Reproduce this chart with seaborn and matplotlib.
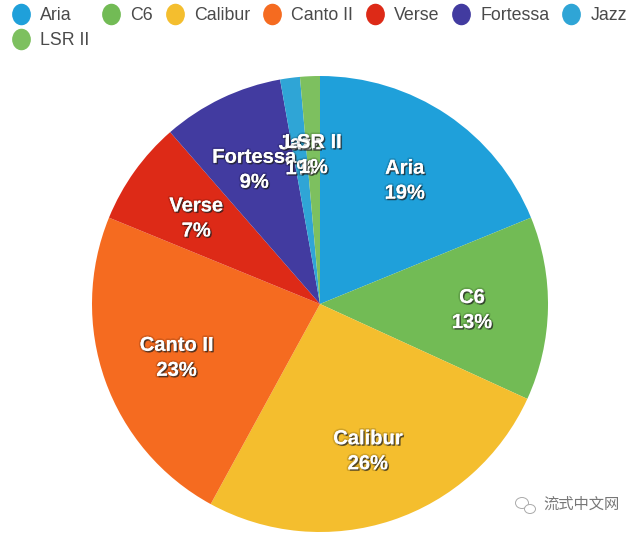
import matplotlib
matplotlib.use("Agg")
import matplotlib.pyplot as plt
import matplotlib.patheffects as pe
from matplotlib.lines import Line2D
from matplotlib.markers import MarkerStyle
from matplotlib.patches import Ellipse
from matplotlib.transforms import Affine2D
import seaborn as sns

names = ["Aria", "C6", "Calibur", "Canto II", "Verse", "Fortessa", "Jazz", "LSR II"]
shares = [18.8, 13.0, 26.1, 23.2, 7.4, 8.6, 1.4, 1.4]
colors = ["#1FA0DA", "#72BB55", "#F4BE2E", "#F56B20", "#DD2A17", "#423BA0", "#2FA5D6", "#7DC05F"]

sns.set_theme(style="white")
plt.rcParams["font.family"] = ["Liberation Sans", "Noto Sans CJK SC", "DejaVu Sans"]

fig, ax = plt.subplots(figsize=(6.4, 5.33), dpi=100)
fig.subplots_adjust(0, 0, 1, 1)

total = sum(shares)
labels = [f"{n}\n{v / total * 100:.0f}%" for n, v in zip(names, shares)]

wedges, texts = ax.pie(shares, labels=labels, colors=sns.color_palette(colors), startangle=90,
                       counterclock=False, center=(320, 229), radius=228, labeldistance=0.667,
                       wedgeprops={"linewidth": 0})
for t in texts:
    x, y = t.get_position()
    t.set_position((x, y - 3))
    t.set_ha("center")
    t.set_va("center")
    t.set_color("white")
    t.set_fontsize(14.5)
    t.set_fontweight("bold")
    t.set_linespacing(1.4)
    t.set_path_effects([pe.withStroke(linewidth=2.5, foreground=(0, 0, 0, 0.14)),
                        pe.withSimplePatchShadow(offset=(1, -1), shadow_rgbFace="#222222", alpha=0.7)])

ax.set_xlim(0, 640)
ax.set_ylim(0, 533)
ax.set_aspect("equal")
ax.axis("off")

# legend dots are a bit taller than wide in the original
dot = MarkerStyle("o", transform=Affine2D().scale(0.86, 1))
handles = [Line2D([], [], linestyle="none", marker=dot, markersize=14.5, color=c, label=n)
           for n, c in zip(names, colors)]
# legend fills by column, so LSR II has to go second to land under Aria
order = [0, 7, 1, 2, 3, 4, 5, 6]
leg = ax.legend([handles[i] for i in order], [names[i] for i in order], ncol=7, frameon=False,
                loc="upper left", bbox_to_anchor=(0.004, 0.997), fontsize=12.8, labelcolor="#4a4a4a",
                handletextpad=0.33, columnspacing=0.47, labelspacing=0.45, handlelength=1.5,
                borderpad=0.3, borderaxespad=0)

# watermark in the corner
ax.text(543, 28, "流式中文网", fontsize=11, color="#777777", va="center", ha="left")
ax.add_patch(Ellipse((522, 30), 13, 11, fc="white", ec="#aaaaaa", lw=0.7))
ax.add_patch(Ellipse((530, 24), 11, 9, fc="white", ec="#aaaaaa", lw=0.7))

fig.savefig("out.png", dpi=100)
